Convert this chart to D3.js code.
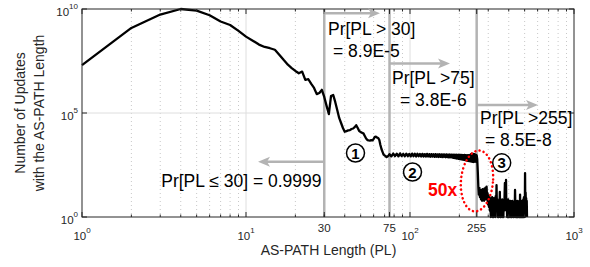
<!DOCTYPE html>
<html><head><meta charset="utf-8">
<script src="https://cdn.jsdelivr.net/npm/d3@7"></script>
<style>
body{margin:0;background:#fff}
svg{display:block}
text{font-family:"Liberation Sans",Arial,Helvetica,sans-serif}
</style>
</head><body>
<svg id="c" width="590" height="267"></svg>
<script>
// ---------------- data ----------------
// Path lengths 1..74, one point each
const headCount = [
  2.0e7, 1.23e9, 5.4e9, 1.0e10, 8.3e9, 5.0e9, 2.5e9, 1.7e9, 8.9e8, 4.7e8,
  3.0e8, 1.95e8, 1.5e8, 1.3e8, 1.1e8, 6.2e7, 3.5e7, 2.1e7, 1.45e7, 1.05e7,
  8.1e6, 9.8e6, 3.9e6, 4.2e6, 2.5e6, 1.6e6, 8.1e5, 9.1e5, 1.3e6, 5.9e5,
  2.2e5, 8.9e4, 6.6e5, 7.4e5, 3.4e5, 1.4e5, 5.8e4, 3.3e4, 1.9e4, 1.26e4,
  1.35e4, 1.45e4, 1.5e4, 1.7e4, 1.8e4, 2.1e4, 2.6e4, 1.9e4, 1.35e4, 1.23e4,
  1.1e4, 1.05e4, 7800, 5900, 5000, 4800, 4700, 5000, 4800, 5600,
  7100, 7200, 6600, 6300, 5000, 2900, 1860, 1350, 1000, 910,
  850, 760, 810, 910
];
const headPL = d3.range(1, 1 + headCount.length);
// Path lengths 75..257, every second value
const plateauCount = [
  1050, 820, 1120, 840, 1100, 820, 1150, 850, 1090, 830,
  1110, 840, 1080, 820, 1120, 830, 1090, 810, 1100, 830,
  1070, 810, 1090, 800, 1060, 800, 1080, 810, 1050, 790,
  1060, 800, 1040, 780, 1050, 790, 1030, 770, 1040, 780,
  1020, 760, 1030, 770, 1010, 750, 1020, 760, 1000, 740,
  1010, 750, 990, 720, 1000, 690, 980, 670, 990, 650,
  970, 630, 980, 610, 960, 590, 970, 570, 950, 560,
  960, 540, 940, 520, 950, 500, 930, 490, 950, 470,
  1050, 460, 1100, 450, 1080, 440, 1060, 460, 1000, 450,
  920, 600
];
const plateauPL = d3.range(75, 75 + 2 * plateauCount.length, 2);
// Path lengths 259..517, every second value
const tailCount = [
  150, 30, 12, 25, 9, 20, 7, 18, 6, 22,
  8, 19, 6, 24, 8, 26, 7, 29, 9, 14,
  4, 11, 3, 9, 2, 8, 1, 7, 2, 9,
  1, 6, 1, 8, 2, 6, 1, 10, 3, 34,
  2, 7, 1, 6, 1, 5, 2, 16, 1, 6,
  1, 5, 2, 7, 1, 5, 1, 6, 2, 8,
  43, 3, 6, 60, 2, 5, 1, 6, 1, 7,
  1, 4, 1, 5, 2, 6, 1, 4, 1, 5,
  1, 6, 2, 4, 1, 5, 1, 4, 2, 20,
  3, 1, 5, 1, 4, 1, 6, 1, 3, 1,
  5, 2, 1, 6, 1, 12, 1, 5, 1, 4,
  1, 6, 2, 1, 5, 1, 7, 1, 9, 2,
  4, 1, 130, 2, 15, 3, 8, 2, 6, 1
];
const tailPL = d3.range(259, 259 + 2 * tailCount.length, 2);

const xTickValues = [1, 10, 30, 75, 100, 255, 1000];
const xTickLabels = [["10","0"], ["10","1"], ["30",""], ["75",""], ["10","2"], ["255",""], ["10","3"]];
const yTickValues = [1, 1e5, 1e10];
const yTickLabels = [["10","0"], ["10","5"], ["10","10"]];
const thresholds = [30, 75, 255];
const probLines = [["Pr[PL > 30]", "= 8.9E-5"], ["Pr[PL >75]", "= 3.8E-6"], ["Pr[PL >255]", "= 8.5E-8"]];
const leftText = "Pr[PL \u2264 30] = 0.9999";
const regionLabels = ["1", "2", "3"];

// ---------------- drawing ----------------
const svg = d3.select("#c");
const L = 82, R = 574, T = 9, B = 217;
const x = d3.scaleLog().domain([1, 1000]).range([L, R]);
const y = d3.scaleLog().domain([1, 1e10]).range([B, T]);
const axisCol = "#262626";

const minorX = [];
[1, 10, 100].forEach(d => { for (let k = 2; k <= 9; k++) minorX.push(d * k); });

// minor dotted grid
svg.append("g").selectAll("line").data(minorX).join("line")
  .attr("x1", d => x(d)).attr("x2", d => x(d)).attr("y1", T).attr("y2", B)
  .attr("stroke", "#c8c8c8").attr("stroke-width", 1).attr("stroke-dasharray", "1,3");
// major grid
svg.append("g").selectAll("line").data([10, 100]).join("line")
  .attr("x1", d => x(d)).attr("x2", d => x(d)).attr("y1", T).attr("y2", B)
  .attr("stroke", "#dedede").attr("stroke-width", 1);
svg.append("g").selectAll("line").data([1e5]).join("line")
  .attr("x1", L).attr("x2", R).attr("y1", d => y(d)).attr("y2", d => y(d))
  .attr("stroke", "#dedede").attr("stroke-width", 1);

// threshold vertical lines
svg.append("g").selectAll("line").data(thresholds).join("line")
  .attr("x1", d => x(d)).attr("x2", d => x(d)).attr("y1", T).attr("y2", B)
  .attr("stroke", "#b3b3b3").attr("stroke-width", 2.5);

// data line
const pts = [];
headPL.forEach((p, i) => pts.push([p, headCount[i]]));
plateauPL.forEach((p, i) => pts.push([p, plateauCount[i]]));
tailPL.forEach((p, i) => pts.push([p, tailCount[i]]));
svg.append("path").datum(pts)
  .attr("d", d3.line().x(d => x(d[0])).y(d => y(d[1])))
  .attr("fill", "none").attr("stroke", "#000").attr("stroke-width", 2.3)
  .attr("stroke-linejoin", "round");

// axes box
svg.append("rect").attr("x", L).attr("y", T).attr("width", R - L).attr("height", B - T)
  .attr("fill", "none").attr("stroke", axisCol).attr("stroke-width", 1);

// ticks
const tk = svg.append("g").attr("stroke", axisCol).attr("stroke-width", 1);
minorX.forEach(d => {
  tk.append("line").attr("x1", x(d)).attr("x2", x(d)).attr("y1", B).attr("y2", B - 2.5);
  tk.append("line").attr("x1", x(d)).attr("x2", x(d)).attr("y1", T).attr("y2", T + 2.5);
});
xTickValues.forEach(d => {
  tk.append("line").attr("x1", x(d)).attr("x2", x(d)).attr("y1", B).attr("y2", B - 5);
  tk.append("line").attr("x1", x(d)).attr("x2", x(d)).attr("y1", T).attr("y2", T + 5);
});
yTickValues.forEach(d => {
  tk.append("line").attr("x1", L).attr("x2", L + 5).attr("y1", y(d)).attr("y2", y(d));
  tk.append("line").attr("x1", R).attr("x2", R - 5).attr("y1", y(d)).attr("y2", y(d));
});

// x tick labels
xTickValues.forEach((d, i) => {
  const [b, s] = xTickLabels[i];
  const t = svg.append("text").attr("x", x(d)).attr("text-anchor", "middle")
    .attr("fill", axisCol).attr("font-size", 11.5);
  if (s) {
    t.attr("y", 239.5);
    t.append("tspan").text(b);
    t.append("tspan").attr("dy", -6.5).attr("font-size", 8).text(s);
  } else {
    t.attr("y", 232).text(b);
  }
});
// y tick labels
yTickValues.forEach((d, i) => {
  const [b, s] = yTickLabels[i];
  const t = svg.append("text").attr("x", 78).attr("y", y(d) + 7).attr("text-anchor", "end")
    .attr("fill", axisCol).attr("font-size", 11.5);
  t.append("tspan").text(b);
  t.append("tspan").attr("dy", -7).attr("font-size", 8).text(s);
});

// axis labels
svg.append("text").attr("x", 328.5).attr("y", 255).attr("text-anchor", "middle")
  .attr("fill", axisCol).attr("font-size", 14).text("AS-PATH Length (PL)");
svg.append("text").attr("transform", "translate(25,113) rotate(-90)").attr("text-anchor", "middle")
  .attr("fill", axisCol).attr("font-size", 14).text("Number of Updates");
svg.append("text").attr("transform", "translate(43.5,113) rotate(-90)").attr("text-anchor", "middle")
  .attr("fill", axisCol).attr("font-size", 14).text("with the AS-PATH Length");

// arrows
const arrowCol = "#b3b3b3";
function arrow(x1, y1, x2) {
  const dir = Math.sign(x2 - x1);
  const hl = 12, hw = 5, notch = 3;
  svg.append("line").attr("x1", x1).attr("x2", x2 - dir * (hl - notch)).attr("y1", y1).attr("y2", y1)
    .attr("stroke", arrowCol).attr("stroke-width", 2.5);
  const p = [[x2, y1], [x2 - dir * hl, y1 - hw], [x2 - dir * (hl - notch), y1], [x2 - dir * hl, y1 + hw]];
  svg.append("path").attr("d", "M" + p.map(q => q.join(",")).join("L") + "Z").attr("fill", arrowCol);
}
arrow(x(30), 13.3, 380);
arrow(x(75), 63.5, 450);
arrow(x(255), 105, 538);
arrow(x(30), 161.7, 258);

// probability annotations
const annoPos = [[328, 35, 333, 57], [392, 83.5, 400, 105.5], [480, 124, 485, 145.5]];
probLines.forEach((lines, i) => {
  const a = annoPos[i];
  svg.append("text").attr("x", a[0]).attr("y", a[1]).attr("font-size", 17.5).attr("fill", "#000").text(lines[0]);
  svg.append("text").attr("x", a[2]).attr("y", a[3]).attr("font-size", 17.5).attr("fill", "#000").text(lines[1]);
});
svg.append("text").attr("x", 321.5).attr("y", 186.5).attr("text-anchor", "end")
  .attr("font-size", 17.5).attr("fill", "#000").text(leftText);

// circled region numbers
const circPos = [[355.5, 153], [412.5, 172], [501.7, 162.8]];
regionLabels.forEach((s, i) => {
  const [cx, cy] = circPos[i];
  svg.append("circle").attr("cx", cx).attr("cy", cy).attr("r", 9)
    .attr("fill", "#fff").attr("stroke", "#000").attr("stroke-width", 1.5);
  svg.append("text").attr("x", cx).attr("y", cy + 5.5).attr("text-anchor", "middle")
    .attr("font-size", 15).attr("font-weight", "bold").attr("fill", "#000").text(s);
});

// 50x marker
svg.append("ellipse").attr("cx", 0).attr("cy", 0).attr("rx", 16).attr("ry", 30.5)
  .attr("transform", "translate(477,181) rotate(5)")
  .attr("fill", "none").attr("stroke", "#ff0000").attr("stroke-width", 2.5)
  .attr("stroke-dasharray", "0.1,4.2").attr("stroke-linecap", "round");
svg.append("text").attr("x", 428).attr("y", 196).attr("font-size", 17.5).attr("font-weight", "bold")
  .attr("fill", "#ff0000").text("50x");
</script>
</body></html>
